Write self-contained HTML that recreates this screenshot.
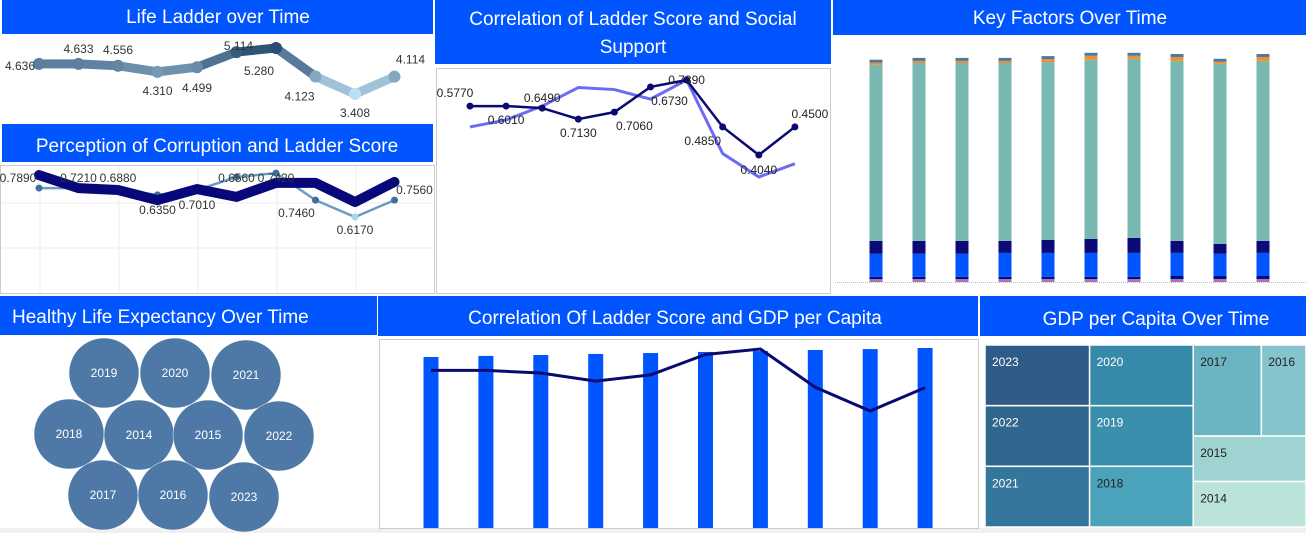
<!DOCTYPE html>
<html><head><meta charset="utf-8"><style>
html,body{margin:0;padding:0;background:#fff;}
svg{display:block;font-family:"Liberation Sans",sans-serif;}
</style></head><body>
<svg id="dash" width="1306" height="533" viewBox="0 0 1306 533">
<rect x="0" y="528" width="1306" height="5" fill="#f0f0f0"/>
<g id="titles">
<rect x="2" y="0" width="431" height="34" fill="#0055ff"/>
<text x="218" y="23" fill="#fff" font-size="19" text-anchor="middle">Life Ladder over Time</text>
<rect x="2" y="124" width="431" height="38" fill="#0055ff"/>
<text x="217" y="152" fill="#fff" font-size="19" text-anchor="middle">Perception of Corruption and Ladder Score</text>
<rect x="435" y="0" width="396" height="64" fill="#0055ff"/>
<text x="633" y="25" fill="#fff" font-size="19" text-anchor="middle">Correlation of Ladder Score and Social</text>
<text x="633" y="53" fill="#fff" font-size="19" text-anchor="middle">Support</text>
<rect x="833" y="0" width="473" height="35" fill="#0055ff"/>
<text x="1070" y="24" fill="#fff" font-size="19" text-anchor="middle">Key Factors Over Time</text>
<rect x="0" y="296" width="377" height="39" fill="#0055ff"/>
<text x="12" y="323" fill="#fff" font-size="19">Healthy Life Expectancy Over Time</text>
<rect x="378" y="296" width="600" height="40" fill="#0055ff"/>
<text x="675" y="324" fill="#fff" font-size="19" text-anchor="middle">Correlation Of Ladder Score and GDP per Capita</text>
<rect x="980" y="296" width="326" height="40" fill="#0055ff"/>
<text x="1156" y="325" fill="#fff" font-size="19" text-anchor="middle">GDP per Capita Over Time</text>
</g>
<rect x="0.5" y="165.5" width="434" height="128" fill="none" stroke="#ccc"/>
<rect x="436.5" y="68.5" width="394" height="225" fill="none" stroke="#ccc"/>
<rect x="379.5" y="339.5" width="599" height="189" fill="none" stroke="#ccc"/>
<line x1="835" y1="282.5" x2="1306" y2="282.5" stroke="#bbb" stroke-dasharray="1,1"/>
<g id="g1"></g><g id="g2"></g><g id="g3"></g><g id="g4"></g><g id="g5"></g><g id="g6"></g><g id="g7"></g>
</svg>
<script>
const years = [2014,2015,2016,2017,2018,2019,2020,2021,2022,2023];
const ladder = [4.636,4.633,4.556,4.310,4.499,5.114,5.280,4.123,3.408,4.114];
const ladderLabels = ["4.636","4.633","4.556","4.310","4.499","5.114","5.280","4.123","3.408","4.114"];
const corrLadder = [0.789,0.749,0.743,0.712,0.746,0.722,0.765,0.765,0.706,0.768];
const corrValues = [0.749,0.749,0.743,0.728,0.743,0.783,0.795,0.712,0.660,0.712];
const corrLabels = ["0.7890","0.7210","0.6880","0.6350","0.7010","0.6560","0.7420","0.7460","0.6170","0.7560"];
const socialLadder = [0.649,0.649,0.642,0.604,0.628,0.715,0.739,0.577,0.480,0.577];
const socialSupport = [0.577,0.601,0.649,0.713,0.706,0.673,0.739,0.485,0.404,0.450];
const socialLabels = ["0.5770","0.6010","0.6490","0.7130","0.7060","0.6730","0.7390","0.4850","0.4040","0.4500"];
const kfRed = [0.03,0.03,0.03,0.03,0.03,0.03,0.03,0.03,0.03,0.03];
const kfPurple = [0.07,0.07,0.07,0.07,0.07,0.07,0.07,0.07,0.07,0.07];
const kfNavyLow = [0.07,0.07,0.07,0.07,0.07,0.07,0.07,0.1,0.1,0.1];
const kfBlue = [0.77,0.77,0.77,0.8,0.8,0.8,0.8,0.77,0.74,0.77];
const kfNavy = [0.43,0.43,0.43,0.4,0.43,0.47,0.5,0.4,0.33,0.4];
const kfTeal = [5.87,5.93,5.93,5.93,5.93,5.97,5.97,6.0,6.0,6.0];
const kfOrange = [0.07,0.07,0.07,0.07,0.1,0.13,0.1,0.13,0.07,0.13];
const kfSlate = [0.1,0.1,0.1,0.1,0.1,0.1,0.1,0.1,0.1,0.1];
const bubbleYears = [2019,2020,2021,2018,2014,2015,2022,2017,2016,2023];
const gdpValues = [9.5,9.56,9.61,9.67,9.72,9.78,9.83,9.89,9.94,10.0];
const tmCol1 = [{y:2023,v:6240,c:"#2e5b87",t:"#fff"},{y:2022,v:6240,c:"#31668e",t:"#fff"},{y:2021,v:6240,c:"#35779c",t:"#fff"}];
const tmCol2 = [{y:2020,v:6180,c:"#3689a8",t:"#fff"},{y:2019,v:6180,c:"#3a8fad",t:"#fff"},{y:2018,v:6180,c:"#4aa3ba",t:"#222"}];
const tmTopRow = [{y:2017,v:6100,c:"#6bb4c2",t:"#222"},{y:2016,v:4000,c:"#85c4cb",t:"#222"}];
const tmStack = [{y:2015,v:5040,c:"#9fd3d1",t:"#222"},{y:2014,v:5040,c:"#bae3d9",t:"#222"}];

const NS="http://www.w3.org/2000/svg";
function mk(parent,tag,attrs){const e=document.createElementNS(NS,tag);for(const k in attrs)e.setAttribute(k,attrs[k]);parent.appendChild(e);return e;}
function txt(parent,x,y,s,size,fill,anchor){const t=mk(parent,"text",{x:x,y:y,"font-size":size,fill:fill,"text-anchor":anchor||"middle"});t.textContent=s;return t;}
function lerpColor(a,b,t){const pa=a.match(/\w\w/g).map(h=>parseInt(h,16)),pb=b.match(/\w\w/g).map(h=>parseInt(h,16));return "rgb("+pa.map((v,i)=>Math.round(v+(pb[i]-v)*t)).join(",")+")";}

// 1. Life ladder
(function(){
const g=document.getElementById("g1");
const x=i=>39+i*39.5, y=v=>48+(5.28-v)*24.6;
const dx=[-19,0,0,0,0,2,-17,-16,0,16], dy=[2,-15,-16,19,21,-6,23,20,19,-17];
const col=v=>lerpColor("bcdff2","2a4d73",(v-3.408)/(5.28-3.408));
for(let i=0;i<ladder.length-1;i++){const l=mk(g,"line",{x1:x(i),y1:y(ladder[i]),x2:x(i+1),y2:y(ladder[i+1]),stroke:col((ladder[i]+ladder[i+1])/2),"stroke-width":9,"stroke-linecap":"round"});

}
ladder.forEach((v,i)=>{const c=mk(g,"circle",{cx:x(i),cy:y(v),r:6,fill:col(v)});


const t=txt(g,x(i)+dx[i],y(v)+dy[i]+4,ladderLabels[i],12,"#333");

});
})();

// 2. Corruption
(function(){
const g=document.getElementById("g2");
const x=i=>39+i*39.5, y=v=>165+(0.82-v)*325;
[40,119,198,277,356].forEach(gx=>{const l=mk(g,"line",{x1:gx,y1:166,x2:gx,y2:293,stroke:"#eee"});

});
[203,248].forEach(gy=>{const l=mk(g,"line",{x1:1,y1:gy,x2:434,y2:gy,stroke:"#eee"});

});
const p1=corrValues.map((v,i)=>x(i)+","+y(v)).join(" ");
const thin=mk(g,"polyline",{points:p1,fill:"none",stroke:"#6a9cc4","stroke-width":2.5});


corrValues.forEach((v,i)=>{const c=mk(g,"circle",{cx:x(i),cy:y(v),r:3.5,fill:i==8?"#b0d4ea":"#3f6f9a"});

});
const p2=corrLadder.map((v,i)=>x(i)+","+y(v)).join(" ");
const thick=mk(g,"polyline",{points:p2,fill:"none",stroke:"#08087a","stroke-width":10,"stroke-linejoin":"round","stroke-linecap":"round"});


const dx=[-21,0,0,0,0,0,0,-19,0,20], dy=[3,-10,-12,10,16,-19,-5,30,28,8];
corrLadder.forEach((v,i)=>{const t=txt(g,x(i)+dx[i],y(v)+dy[i]+4,corrLabels[i],12,"#333");

});
})();

// 3. Social support
(function(){
const g=document.getElementById("g3");
const x=i=>470+i*36.1, y=v=>80+(0.739-v)*289.6;
const pl=mk(g,"polyline",{points:socialSupport.map((v,i)=>x(i)+","+y(v)).join(" "),fill:"none",stroke:"#6b6bf5","stroke-width":3});


const pn=mk(g,"polyline",{points:socialLadder.map((v,i)=>x(i)+","+y(v)).join(" "),fill:"none",stroke:"#0a0a70","stroke-width":2.5});


socialLadder.forEach((v,i)=>{const c=mk(g,"circle",{cx:x(i),cy:y(v),r:3.5,fill:"#0a0a70"});

});
const dx=[-15,0,0,0,20,19,0,-20,0,15], dy=[-13,14,-10,14,14,14,0,14,15,-13];
socialLadder.forEach((v,i)=>{const t=txt(g,x(i)+dx[i],y(v)+dy[i]+4,socialLabels[i],12,"#222");

});
})();

// 4. Key factors stacked bars
(function(){
const g=document.getElementById("g4");
const x=i=>876+i*43, base=282, k=30;
const layers=[[kfRed,"#e15759"],[kfPurple,"#8e7be0"],[kfNavyLow,"#0a0a78"],[kfBlue,"#0055ff"],[kfNavy,"#0a0a78"],[kfTeal,"#79b8b0"],[kfOrange,"#f28e2b"],[kfSlate,"#4e79a7"]];
years.forEach((yr,i)=>{let acc=0;layers.forEach(([arr,c])=>{const h=arr[i]*k;const r=mk(g,"rect",{x:x(i)-6.5,y:base-acc-h,width:13,height:h,fill:c});


acc+=h;});});
})();

// 5. Bubbles
(function(){
const g=document.getElementById("g5");
const pos=[[104,373],[175,373],[246,375],[69,434],[139,435],[208,435],[279,436],[103,495],[173,495],[244,497]];
bubbleYears.forEach((yr,i)=>{const c=mk(g,"circle",{cx:pos[i][0],cy:pos[i][1],r:35,fill:"#4e79a7",stroke:"#fff","stroke-width":0.5});


const t=txt(g,pos[i][0],pos[i][1]+4,String(yr),12,"#fff");

});
})();

// 6. GDP bars + ladder line
(function(){
const g=document.getElementById("g6");
const x=i=>431+i*54.9, yb=v=>528-v*18, yl=v=>349+(5.28-v)*33.1;
gdpValues.forEach((v,i)=>{const r=mk(g,"rect",{x:x(i)-7.5,y:yb(v),width:15,height:528-yb(v),fill:"#0055ff"});

});
const l=mk(g,"polyline",{points:ladder.map((v,i)=>x(i)+","+yl(v)).join(" "),fill:"none",stroke:"#0a0a70","stroke-width":3});


})();

// 7. Treemap
(function(){
const g=document.getElementById("g7");
const X0=985,Y0=345,W=321,H=182;
const sum=a=>a.reduce((s,d)=>s+d.v,0);
const total=sum(tmCol1)+sum(tmCol2)+sum(tmTopRow)+sum(tmStack);
function cell(d,x,y,w,h){const r=mk(g,"rect",{x:x,y:y,width:w,height:h,fill:d.c,stroke:"#fff","stroke-width":1.5});


const t=txt(g,x+7,y+21,String(d.y),12,d.t,"start");

}
let cx=X0;
[tmCol1,tmCol2].forEach(col=>{const w=sum(col)/total*W;let cy=Y0;col.forEach(d=>{const h=d.v/sum(col)*H;cell(d,cx,cy,w,h);cy+=h;});cx+=w;});
const rw=X0+W-cx, rest=sum(tmTopRow)+sum(tmStack);
const th=sum(tmTopRow)/rest*H;let rx=cx;
tmTopRow.forEach(d=>{const w=d.v/sum(tmTopRow)*rw;cell(d,rx,Y0,w,th);rx+=w;});
let ry=Y0+th;tmStack.forEach(d=>{const h=d.v/rest*H;cell(d,cx,ry,rw,h);ry+=h;});
})();
</script>
</body></html>
